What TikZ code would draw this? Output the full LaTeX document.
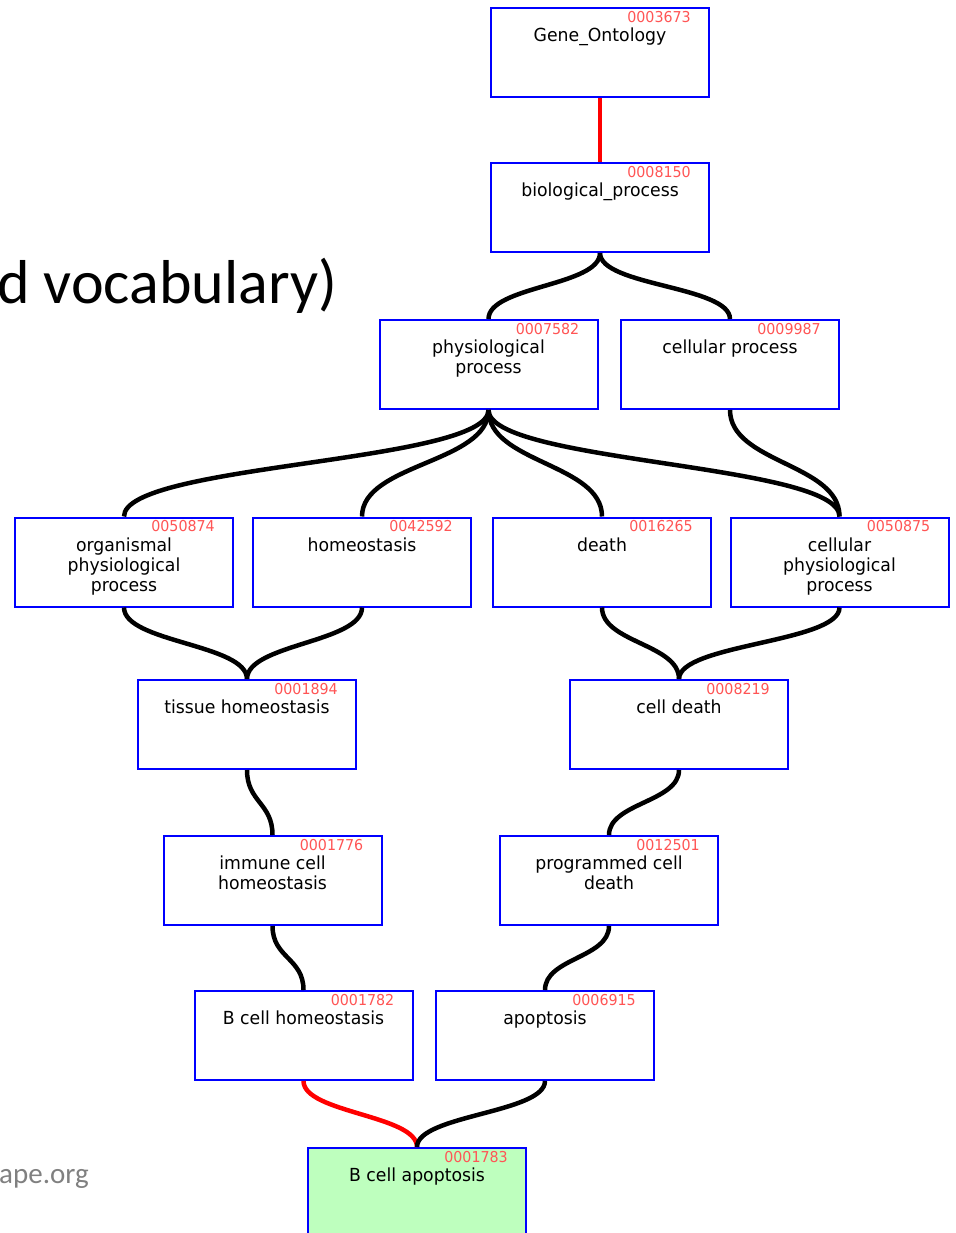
\documentclass[tikz,border=0pt]{standalone}
\usepackage{fontspec}
\setmainfont{DejaVu Sans}
\newfontfamily\termfamily[FakeStretch=0.96]{DejaVu Sans}
\newfontfamily\idfamily[FakeStretch=0.95]{DejaVu Sans}
\newfontfamily\slidefamily{Carlito}
\usepackage{xcolor}
\usepackage{tikz}
\usetikzlibrary{positioning}
\definecolor{termblue}{RGB}{0,0,255}
\definecolor{idred}{RGB}{255,85,85}
\definecolor{leafgreen}{RGB}{190,255,190}
\definecolor{slidegray}{RGB}{128,128,128}
\tikzset{
  term/.style={draw=termblue, line width=2pt, fill=white, minimum width=218pt, minimum height=89pt, inner sep=0pt},
  termid/.style={text=idred, font=\idfamily\fontsize{15}{18}\selectfont, anchor=north east, inner sep=0pt, xshift=-19pt, yshift=-4pt},
  termtext/.style={text=black, font=\termfamily\fontsize{18}{20}\selectfont, align=center, anchor=north, inner sep=0pt, yshift=-21pt},
  isa/.style={line width=4.5pt, black},
  hilite/.style={isa, red},
  slidetext/.style={font=\slidefamily\fontsize{62}{66}\selectfont, inner sep=0pt}
}

\begin{document}
\begin{tikzpicture}[x=1pt,y=1pt]
  \useasboundingbox (0,0) rectangle (955,-1233);
  % slide text behind the graph
  \node [slidetext, anchor=base west] (title) at (-3,-303) {d vocabulary)};
  \node [slidetext, font=\slidefamily\fontsize{29}{34}\selectfont, text=slidegray, anchor=base west] (site) at (-1,-1183) {ape.org};

  % GO terms
  \node [term, label={[termid]north east:0003673}, label={[termtext]north:Gene\_Ontology}] (go) at (600,-52.5) {};
  \node [term, label={[termid]north east:0008150}, label={[termtext]north:biological\_process}] (bio) at (600,-207.5) {};
  \node [term, label={[termid]north east:0007582}, label={[termtext]north:{physiological\\process}}] (physio) at (488.5,-364.5) {};
  \node [term, label={[termid]north east:0009987}, label={[termtext]north:cellular process}] (cellproc) at (730,-364.5) {};
  \node [term, label={[termid]north east:0050874}, label={[termtext]north:{organismal\\physiological\\process}}] (organismal) at (124,-562) {};
  \node [term, label={[termid]north east:0042592}, label={[termtext]north:homeostasis}] (homeo) at (362,-562) {};
  \node [term, label={[termid]north east:0016265}, label={[termtext]north:death}] (death) at (602,-562) {};
  \node [term, label={[termid]north east:0050875}, label={[termtext]north:{cellular\\physiological\\process}}] (cellphys) at (839.5,-562) {};
  \node [term, label={[termid]north east:0001894}, label={[termtext]north:tissue homeostasis}] (tissue) at (247,-724.5) {};
  \node [term, label={[termid]north east:0008219}, label={[termtext]north:cell death}] (celldeath) at (679,-724.5) {};
  \node [term, label={[termid]north east:0001776}, label={[termtext]north:{immune cell\\homeostasis}}] (immune) at (272.5,-880.5) {};
  \node [term, label={[termid]north east:0012501}, label={[termtext]north:{programmed cell\\death}}] (progdeath) at (609,-880.5) {};
  \node [term, label={[termid]north east:0001782}, label={[termtext]north:B cell homeostasis}] (bhomeo) at (303.5,-1035.5) {};
  \node [term, label={[termid]north east:0006915}, label={[termtext]north:apoptosis}] (apoptosis) at (545,-1035.5) {};
  \node [term, fill=leafgreen, label={[termid]north east:0001783}, label={[termtext]north:B cell apoptosis}] (bapoptosis) at (417,-1192.5) {};

  % is_a links
  \draw [hilite] (go.south) -- (bio.north);
  \draw [isa] (bio.south) to [out=-90,in=90,distance=33pt] (physio.north);
  \draw [isa] (bio.south) to [out=-90,in=90,distance=33pt] (cellproc.north);
  \draw [isa] (physio.south) to [out=-90,in=90,distance=53pt] (organismal.north);
  \draw [isa] (physio.south) to [out=-90,in=90,distance=53pt] (homeo.north);
  \draw [isa] (physio.south) to [out=-90,in=90,distance=53pt] (death.north);
  \draw [isa] (physio.south) to [out=-90,in=90,distance=53pt] (cellphys.north);
  \draw [isa] (cellproc.south) to [out=-90,in=90,distance=53pt] (cellphys.north);
  \draw [isa] (organismal.south) to [out=-90,in=90,distance=35pt] (tissue.north);
  \draw [isa] (homeo.south) to [out=-90,in=90,distance=35pt] (tissue.north);
  \draw [isa] (death.south) to [out=-90,in=90,distance=35pt] (celldeath.north);
  \draw [isa] (cellphys.south) to [out=-90,in=90,distance=35pt] (celldeath.north);
  \draw [isa] (tissue.south) to [out=-90,in=90,distance=32pt] (immune.north);
  \draw [isa] (celldeath.south) to [out=-90,in=90,distance=32pt] (progdeath.north);
  \draw [isa] (immune.south) to [out=-90,in=90,distance=32pt] (bhomeo.north);
  \draw [isa] (progdeath.south) to [out=-90,in=90,distance=32pt] (apoptosis.north);
  \draw [hilite] (bhomeo.south) to [out=-90,in=90,distance=32pt] (bapoptosis.north);
  \draw [isa] (apoptosis.south) to [out=-90,in=90,distance=32pt] (bapoptosis.north);
\end{tikzpicture}
\end{document}
